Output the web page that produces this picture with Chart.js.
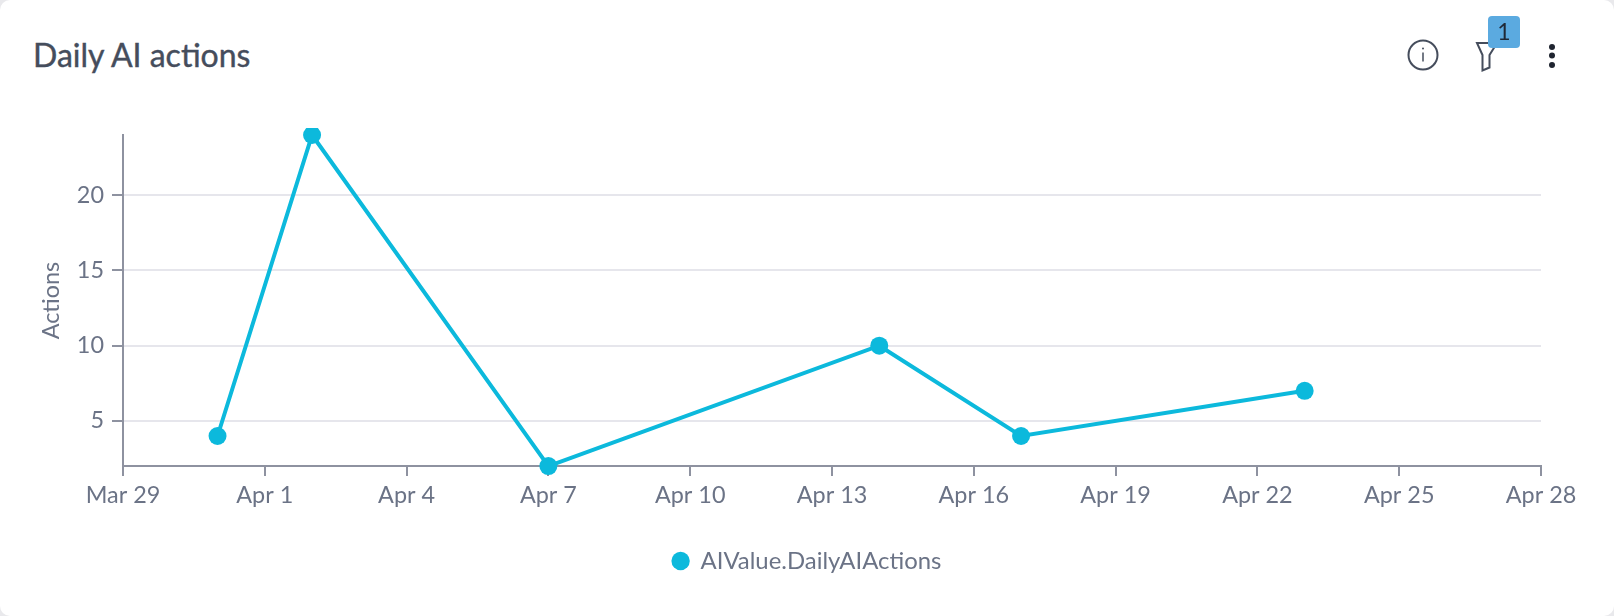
<!DOCTYPE html>
<html>
<head>
<meta charset="utf-8">
<title>Daily AI actions</title>
<script src="https://cdn.jsdelivr.net/npm/chart.js@4"></script>
<style>
    html, body { margin: 0; padding: 0; background: #e9e9ec; }
    .card { position: relative; width: 1614px; height: 616px; background: #fff; border-radius: 10px; overflow: hidden; font-family: Lato, sans-serif; }
    .card h2 { position: absolute; left: 33px; top: 36px; margin: 0; font-size: 32px; line-height: 38px; font-weight: 400; -webkit-text-stroke: 0.4px #454d5c; color: #454d5c; }
    .card canvas { position: absolute; left: 0; top: 0; }
    .icons { position: absolute; left: 0; top: 0; }
    .badge { position: absolute; left: 1488px; top: 16px; width: 32px; height: 32px; border-radius: 4px; background: #5baae0; color: #1f2937; font-size: 23px; line-height: 30px; text-align: center; }
</style>
</head>
<body>
<div class="card">
    <h2>Daily AI actions</h2>
    <canvas id="actionsChart" width="1614" height="616"></canvas>
    <svg class="icons" width="1614" height="100" fill="none" stroke="#454d5c" stroke-width="2">
        <circle cx="1423" cy="55" r="14.5"></circle>
        <path d="M1423 52.5v9" stroke-width="1.5"></path>
        <circle cx="1423" cy="48.5" r="1" fill="#454d5c" stroke="none"></circle>
        <path d="M1477 43h20l-7.5 12v12.500l-7 3v-15.500z"></path>
        <g fill="#1f2530" stroke="none">
            <circle cx="1552" cy="47" r="3"></circle>
            <circle cx="1552" cy="55.500" r="3"></circle>
            <circle cx="1552" cy="65" r="3"></circle>
        </g>
    </svg>
    <div class="badge">1</div>
</div>
<script>
const seriesName = 'AIValue.DailyAIActions';
const dates = ['2025-03-31', '2025-04-02', '2025-04-07', '2025-04-14', '2025-04-17', '2025-04-23'];
const actions = [4, 24, 2, 10, 4, 7];
const xTickLabels = ['Mar 29', 'Apr 1', 'Apr 4', 'Apr 7', 'Apr 10', 'Apr 13', 'Apr 16', 'Apr 19', 'Apr 22', 'Apr 25', 'Apr 28'];
const yTicks = [5, 10, 15, 20];

const DAY = 24 * 60 * 60 * 1000;
const xStart = Date.parse('2025-03-29');
const xEnd = Date.parse('2025-04-28');

const TEAL = '#0cb9dc';
const AXIS = '#8e92a0';
const GRID = '#e6e6ec';
const TEXT = '#6b7386';

Chart.defaults.font.family = 'Lato, sans-serif';
Chart.defaults.font.size = 23.4;
Chart.defaults.color = TEXT;

new Chart(document.getElementById('actionsChart').getContext('2d'), {
    type: 'line',
    data: {
        datasets: [{
            label: seriesName,
            data: dates.map((d, i) => ({ x: Date.parse(d), y: actions[i] })),
            borderColor: TEAL,
            backgroundColor: TEAL,
            borderWidth: 4,
            tension: 0,
            pointRadius: 9,
            pointHoverRadius: 9,
            pointBorderWidth: 0,
            // marker on the top edge gets cut a little above the axis end
            clip: { left: 10, top: 7, right: 10, bottom: 10 }
        }]
    },
    options: {
        responsive: false,
        animation: false,
        layout: { padding: { left: 0, right: 0, top: 135, bottom: 33 } },
        plugins: {
            tooltip: { enabled: false },
            legend: {
                position: 'bottom',
                labels: { usePointStyle: true, pointStyle: 'circle', boxWidth: 16, boxHeight: 13, padding: 19, color: TEXT, font: { size: 23.9 } }
            }
        },
        scales: {
            x: {
                type: 'linear',
                min: xStart,
                max: xEnd,
                afterBuildTicks: scale => {
                    scale.ticks = xTickLabels.map((_, i) => ({ value: xStart + i * 3 * DAY }));
                },
                afterFit: scale => { scale.height = 64; },
                border: { color: AXIS, width: 2 },
                grid: { drawOnChartArea: false, color: AXIS, lineWidth: 2, tickLength: 10 },
                ticks: {
                    maxRotation: 0,
                    autoSkip: false,
                    padding: 5,
                    callback: (value, index) => xTickLabels[index]
                }
            },
            y: {
                min: 2,
                max: 24,
                afterBuildTicks: scale => {
                    scale.ticks = yTicks.map(v => ({ value: v }));
                },
                afterFit: scale => { scale.width = 123; },
                border: { color: AXIS, width: 2 },
                grid: { color: GRID, lineWidth: 2, tickColor: AXIS, tickLength: 11 },
                ticks: { padding: 8 },
                title: { display: true, text: 'Actions', color: TEXT, font: { size: 23.4 }, padding: { top: 37, bottom: 0 } }
            },
            // empty right-hand axis keeps the plot short while the legend centres on the full card
            rightGutter: {
                position: 'right',
                display: true,
                afterFit: scale => { scale.width = 73; },
                border: { display: false },
                grid: { display: false },
                ticks: { display: false }
            }
        }
    }
});
</script>
</body>
</html>
